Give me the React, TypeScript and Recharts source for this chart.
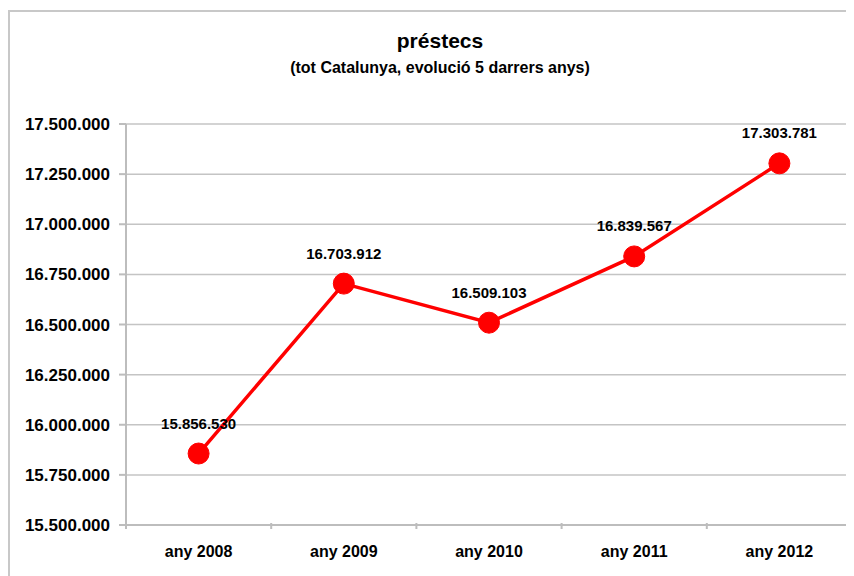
import React from 'react';
import { LineChart, Line, XAxis, YAxis, CartesianGrid, LabelList } from 'recharts';

const years = ['any 2008', 'any 2009', 'any 2010', 'any 2011', 'any 2012'];
const loans = [15856530, 16703912, 16509103, 16839567, 17303781];
const yTicks = [15500000, 15750000, 16000000, 16250000, 16500000, 16750000, 17000000, 17250000, 17500000];

const chartData = years.map((year, i) => ({ year, loans: loans[i] }));

// thousands separated with dots, e.g. 17.500.000
const fmt = (v: number) => String(Math.round(v)).replace(/\B(?=(\d{3})+(?!\d))/g, '.');

const FONT = 'Arial, "Liberation Sans", Helvetica, sans-serif';
const CHART_W = 846;
const CHART_H = 568;
const MARGIN = { top: 116, right: 2, bottom: 21, left: 0 };
const Y_WIDTH = 118;
const BAND = (CHART_W - Y_WIDTH - MARGIN.left - MARGIN.right) / years.length;

// Category label centred in its band, tick marks drawn on the band edges
const XTick = (props: any) => {
  const { x, y, payload, index } = props;
  const top = y - 10;
  return (
    <g>
      <line x1={x - BAND / 2} x2={x - BAND / 2} y1={top} y2={top + 6} stroke="#bdbdbd" strokeWidth={2} />
      {index === years.length - 1 && (
        <line x1={x + BAND / 2} x2={x + BAND / 2} y1={top} y2={top + 6} stroke="#bdbdbd" strokeWidth={2} />
      )}
      <text x={x} y={top + 34} textAnchor="middle" fontSize={16} fontWeight="bold" fill="#000" fontFamily={FONT}>
        {payload.value}
      </text>
    </g>
  );
};

export default function App() {
  return (
    <div style={{ position: 'relative', width: CHART_W, height: CHART_H, overflow: 'hidden', fontFamily: FONT }}>
      {/* outer frame, right and bottom edges run off the page */}
      <div
        style={{
          position: 'absolute',
          left: 0,
          top: 2,
          width: CHART_W + 20,
          height: CHART_H + 20,
          border: '2px solid #c8c8c8',
          boxSizing: 'border-box',
        }}
      />
      <div style={{ position: 'absolute', left: 0, width: 864, top: 21, textAlign: 'center', fontSize: 21, fontWeight: 'bold' }}>
        préstecs
      </div>
      <div style={{ position: 'absolute', left: 0, width: 864, top: 51, textAlign: 'center', fontSize: 16, fontWeight: 'bold' }}>
        (tot Catalunya, evolució 5 darrers anys)
      </div>
      <div style={{ position: 'absolute', left: 0, top: 0 }}>
        <LineChart width={CHART_W} height={CHART_H} data={chartData} margin={MARGIN}>
          <CartesianGrid vertical={false} stroke="#c4c4c4" strokeWidth={1.5} />
          <XAxis
            dataKey="year"
            scale="band"
            height={30}
            axisLine={{ stroke: '#bdbdbd', strokeWidth: 2 }}
            tickLine={false}
            tick={<XTick />}
            interval={0}
          />
          <YAxis
            width={Y_WIDTH}
            domain={[15500000, 17500000]}
            ticks={yTicks}
            tickFormatter={fmt}
            axisLine={{ stroke: '#bdbdbd', strokeWidth: 2 }}
            tickLine={{ stroke: '#bdbdbd', strokeWidth: 2 }}
            tickSize={7}
            tickMargin={9}
            tick={{ fill: '#000', fontSize: 17, fontWeight: 'bold', fontFamily: FONT }}
          />
          <Line
            type="linear"
            dataKey="loans"
            stroke="#ff0000"
            strokeWidth={3.5}
            dot={{ r: 10.5, fill: '#ff0000', stroke: '#ff0000', strokeWidth: 1 }}
            isAnimationActive={false}
          >
            <LabelList
              dataKey="loans"
              position="top"
              offset={25}
              formatter={(v: any) => fmt(Number(v))}
              style={{ fill: '#000', fontSize: 15, fontWeight: 'bold', fontFamily: FONT }}
            />
          </Line>
        </LineChart>
      </div>
    </div>
  );
}
